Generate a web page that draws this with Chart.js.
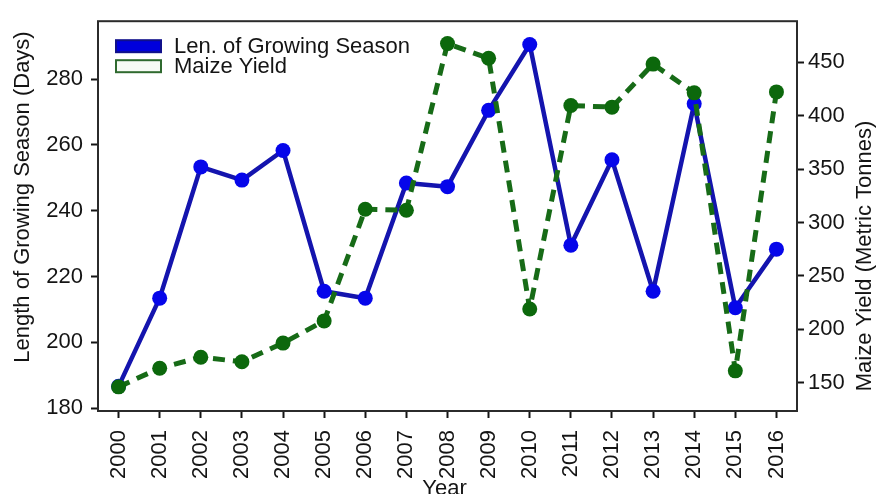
<!DOCTYPE html>
<html>
<head>
<meta charset="utf-8">
<script src="https://cdn.jsdelivr.net/npm/chart.js@4/dist/chart.umd.min.js"></script>
<style>
  html, body { margin: 0; padding: 0; background: #ffffff; }
  #wrap { width: 878px; height: 494px; position: relative; }
</style>
</head>
<body>
<div id="wrap"><canvas id="chart"></canvas></div>
<script>
// Growing season length vs. maize yield, 2000-2016
const years = ['2000', '2001', '2002', '2003', '2004', '2005', '2006', '2007', '2008',
               '2009', '2010', '2011', '2012', '2013', '2014', '2015', '2016'];
const seasonDays = [186.6, 213.4, 253.3, 249.3, 258.3, 215.5, 213.4, 248.4, 247.3,
                    270.5, 290.5, 229.5, 255.5, 215.5, 272.5, 210.5, 228.3];
const maizeYield = [146, 163.5, 173.8, 169.5, 187, 207.8, 312.3, 311.4, 467.5,
                    453.8, 219, 409.5, 408, 448.3, 421.4, 161, 422.3];
const leftTicks = [180, 200, 220, 240, 260, 280];
const rightTicks = [150, 200, 250, 300, 350, 400, 450];
const titles = {
  x: 'Year',
  left: 'Length of Growing Season (Days)',
  right: 'Maize Yield (Metric Tonnes)'
};

const FONT = '"Liberation Sans", Arial, Helvetica, sans-serif';
const FS = 22;
const INK = '#141414';
const BLUE_LINE = '#1414ae';
const BLUE_PT = '#0606ea';
const GREEN_LINE = '#176b17';
const GREEN_PT = '#0c680c';

// frame around the plotting area, the axis titles and the in-plot legend
const framePlugin = {
  id: 'frame',
  afterDraw(chart) {
    const { ctx, chartArea: a } = chart;
    ctx.save();
    ctx.strokeStyle = '#2b2b2b';
    ctx.lineWidth = 2;
    ctx.strokeRect(a.left, a.top, a.right - a.left, a.bottom - a.top);

    ctx.font = FS + 'px ' + FONT;
    ctx.fillStyle = INK;
    ctx.textBaseline = 'alphabetic';
    ctx.textAlign = 'center';
    ctx.fillText(titles.x, (a.left + a.right) / 2 - 3, 495);

    ctx.save();
    ctx.translate(29, 197);
    ctx.rotate(-Math.PI / 2);
    ctx.fillText(titles.left, 0, 0);
    ctx.restore();

    ctx.save();
    ctx.translate(871, 256);
    ctx.rotate(-Math.PI / 2);
    ctx.fillText(titles.right, 0, 0);
    ctx.restore();

    // legend
    const x0 = a.left + 18, bw = 45, bh = 12;
    const rows = [
      { text: chart.data.datasets[0].label, fill: '#0000dd', stroke: '#10108a', y: a.top + 19 },
      { text: chart.data.datasets[1].label, fill: '#f7fbf5', stroke: '#2f6a2f', y: a.top + 39 }
    ];
    ctx.textBaseline = 'middle';
    ctx.textAlign = 'left';
    rows.forEach(r => {
      ctx.fillStyle = r.fill;
      ctx.fillRect(x0, r.y, bw, bh);
      ctx.lineWidth = 2;
      ctx.strokeStyle = r.stroke;
      ctx.strokeRect(x0, r.y, bw, bh);
      ctx.fillStyle = INK;
      ctx.fillText(r.text, x0 + bw + 13, r.y + bh / 2 + 1);
    });
    ctx.restore();
  }
};

const tickGrid = { display: true, drawOnChartArea: false, drawTicks: true, tickLength: 7, tickWidth: 2, tickColor: INK };

new Chart(document.getElementById('chart'), {
  type: 'line',
  data: {
    labels: years,
    datasets: [
      {
        label: 'Len. of Growing Season',
        data: seasonDays,
        yAxisID: 'yDays',
        borderColor: BLUE_LINE,
        backgroundColor: BLUE_PT,
        pointBackgroundColor: BLUE_PT,
        pointBorderColor: BLUE_PT,
        borderWidth: 4.5,
        borderJoinStyle: 'round',
        pointRadius: 7.5,
        pointBorderWidth: 0,
        tension: 0,
        order: 2
      },
      {
        label: 'Maize Yield',
        data: maizeYield,
        yAxisID: 'yYield',
        borderColor: GREEN_LINE,
        backgroundColor: GREEN_PT,
        pointBackgroundColor: GREEN_PT,
        pointBorderColor: GREEN_PT,
        borderWidth: 5,
        borderDash: [12, 8],
        borderJoinStyle: 'round',
        pointRadius: 7.5,
        pointBorderWidth: 0,
        tension: 0,
        order: 1
      }
    ]
  },
  options: {
    responsive: true,
    maintainAspectRatio: false,
    animation: false,
    layout: { padding: { top: 13, left: 0, right: 0, bottom: 0 } },
    plugins: {
      legend: { display: false },
      tooltip: { enabled: false }
    },
    scales: {
      x: {
        type: 'category',
        offset: true,
        grid: tickGrid,
        border: { display: false },
        ticks: {
          color: INK, font: { family: FONT, size: FS },
          minRotation: 90, maxRotation: 90, padding: 12, autoSkip: false
        },
        afterFit(s) { s.height = 83; }
      },
      yDays: {
        type: 'linear',
        position: 'left',
        min: 179.1,
        max: 297.6,
        afterBuildTicks(s) { s.ticks = leftTicks.map(v => ({ value: v })); },
        grid: tickGrid,
        border: { display: false },
        ticks: { color: INK, font: { family: FONT, size: FS }, padding: 8 },
        afterFit(s) { s.width = 98; }
      },
      yYield: {
        type: 'linear',
        position: 'right',
        min: 123.4,
        max: 488.5,
        afterBuildTicks(s) { s.ticks = rightTicks.map(v => ({ value: v })); },
        grid: tickGrid,
        border: { display: false },
        ticks: { color: INK, font: { family: FONT, size: FS }, padding: 4 },
        afterFit(s) { s.width = 81; }
      }
    }
  },
  plugins: [framePlugin]
});
</script>
</body>
</html>
